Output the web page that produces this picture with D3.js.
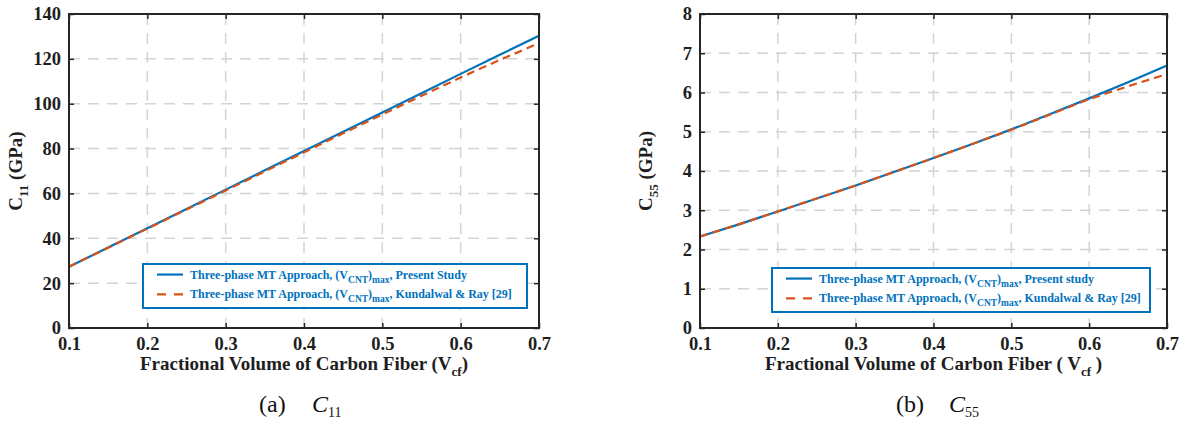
<!DOCTYPE html>
<html><head><meta charset="utf-8">
<script src="https://cdn.jsdelivr.net/npm/d3@7"></script>
<style>
html,body{margin:0;padding:0;background:#fff;}
svg{display:block;}
svg text{font-family:"Liberation Serif","Times New Roman",serif !important;}
</style></head>
<body><svg id="c" width="1186" height="423"></svg>
<script>
// ---- data ----
const vcf = [0.1,0.15,0.2,0.25,0.3,0.35,0.4,0.45,0.5,0.55,0.6,0.65,0.7];
const c11Present = [27.3,35.9,44.5,53.1,61.7,70.3,78.9,87.5,96.1,104.7,113.3,121.8,130.3];
const c11Kundalwal = [27.3,35.8,44.3,52.8,61.3,69.8,78.3,86.8,95.2,103.5,111.7,119.5,127.0];
const c55Present = [2.33,2.64,2.97,3.30,3.63,3.98,4.33,4.69,5.06,5.45,5.85,6.26,6.69];
const c55Kundalwal = [2.33,2.64,2.97,3.30,3.63,3.98,4.33,4.69,5.05,5.44,5.83,6.16,6.47];
const xTicks = [0.1,0.2,0.3,0.4,0.5,0.6,0.7];
const c11Ticks = [0,20,40,60,80,100,120,140];
const c55Ticks = [0,1,2,3,4,5,6,7,8];
const legendA = ["Present Study","Kundalwal & Ray [29]"];
const legendB = ["Present study","Kundalwal & Ray [29]"];

const BLUE = "#0072BD", RED = "#D95319", AX = "#262626", TXT = "#1e1e1e";
const svg = d3.select("#c");

function panel(o){
  const g = svg.append("g");
  const x = d3.scaleLinear().domain([0.1,0.7]).range([o.x0,o.x1]);
  const y = d3.scaleLinear().domain(o.ydom).range([o.y1,o.y0]);
  // grid
  g.selectAll(".gx").data(xTicks.slice(1,-1)).enter().append("line")
    .attr("x1",d=>x(d)).attr("x2",d=>x(d)).attr("y1",o.y0).attr("y2",o.y1)
    .attr("stroke","#d4d4d4").attr("stroke-width",1.5).attr("stroke-dasharray","11,8");
  g.selectAll(".gy").data(o.yticks.slice(1,-1)).enter().append("line")
    .attr("y1",d=>y(d)).attr("y2",d=>y(d)).attr("x1",o.x0).attr("x2",o.x1)
    .attr("stroke","#d4d4d4").attr("stroke-width",1.5).attr("stroke-dasharray","11,8");
  // axes with inward ticks
  const fmtx = d3.format(".1f");
  const ab = g.append("g").attr("transform",`translate(0,${o.y1})`)
    .call(d3.axisBottom(x).tickValues(xTicks).tickFormat(fmtx).tickSizeInner(-5).tickSizeOuter(0).tickPadding(9));
  const at = g.append("g").attr("transform",`translate(0,${o.y0})`)
    .call(d3.axisTop(x).tickValues(xTicks).tickFormat("").tickSizeInner(-5).tickSizeOuter(0));
  const al = g.append("g").attr("transform",`translate(${o.x0},0)`)
    .call(d3.axisLeft(y).tickValues(o.yticks).tickFormat(d3.format("d")).tickSizeInner(-5).tickSizeOuter(0).tickPadding(8));
  const ar = g.append("g").attr("transform",`translate(${o.x1},0)`)
    .call(d3.axisRight(y).tickValues(o.yticks).tickFormat("").tickSizeInner(-5).tickSizeOuter(0));
  [ab,at,al,ar].forEach(a=>{
    a.attr("font-family",null).attr("font-size",null);
    a.select(".domain").remove();
    a.selectAll(".tick line").attr("stroke",AX).attr("stroke-width",1.5);
    a.selectAll("text").attr("fill",TXT).style("font-size","18.5px").style("font-weight","bold");
  });
  // lines
  const line = vals => d3.line().x((d,i)=>x(vcf[i])).y(d=>y(d))(vals);
  g.append("path").attr("d",line(o.s1)).attr("fill","none").attr("stroke",BLUE).attr("stroke-width",2.2);
  g.append("path").attr("d",line(o.s2)).attr("fill","none").attr("stroke",RED).attr("stroke-width",2.2).attr("stroke-dasharray","8,5");
  // frame
  g.append("rect").attr("x",o.x0).attr("y",o.y0).attr("width",o.x1-o.x0).attr("height",o.y1-o.y0)
    .attr("fill","none").attr("stroke",AX).attr("stroke-width",2);
  // legend
  const L = o.leg;
  g.append("rect").attr("x",L.x).attr("y",L.y).attr("width",L.w).attr("height",L.h)
    .attr("fill","#fff").attr("stroke",BLUE).attr("stroke-width",2);
  o.legText.forEach((t,i)=>{
    const ly = L.y + L.h*(i===0?0.24:0.69);
    g.append("line").attr("x1",L.x+14).attr("x2",L.x+40).attr("y1",ly).attr("y2",ly)
      .attr("stroke",i===0?BLUE:RED).attr("stroke-width",2.2).attr("stroke-dasharray",i===0?null:"9,8");
    const tx = g.append("text").attr("x",L.x+47).attr("y",ly+4).attr("fill",BLUE)
      .style("font-size","12px").style("font-weight","bold");
    tx.append("tspan").text("Three-phase MT Approach, (V");
    tx.append("tspan").attr("dy",4).style("font-size","9.5px").text("CNT");
    tx.append("tspan").attr("dy",-4).text(")");
    tx.append("tspan").attr("dy",4).style("font-size","9.5px").text("max");
    tx.append("tspan").attr("dy",-4).text(", " + t);
  });
  // y title
  const yt = g.append("text").attr("transform",`translate(${o.ytx},${(o.y0+o.y1)/2}) rotate(-90)`)
    .attr("text-anchor","middle").attr("fill",TXT).style("font-size","19px").style("font-weight","bold");
  yt.append("tspan").text("C");
  yt.append("tspan").attr("dy",6).style("font-size","13px").text(o.sub);
  yt.append("tspan").attr("dy",-6).text(" (GPa)");
  // x title
  const xt = g.append("text").attr("x",(o.x0+o.x1)/2).attr("y",370).attr("text-anchor","middle")
    .attr("fill",TXT).style("font-size","19px").style("font-weight","bold");
  xt.append("tspan").text(o.xpre);
  xt.append("tspan").attr("dy",6).style("font-size","13px").text("cf");
  xt.append("tspan").attr("dy",-6).text(o.xpost);
  // caption
  const ct = g.append("text").attr("x",o.capx).attr("y",412).attr("fill","#111").style("font-size","24px");
  ct.append("tspan").text(o.cap);
  ct.append("tspan").attr("x",o.capx+53).style("font-style","italic").text("C");
  ct.append("tspan").attr("dy",5).style("font-size","14px").text(o.sub);
}

panel({x0:69,x1:539,y0:14,y1:328,ydom:[0,140],yticks:c11Ticks,s1:c11Present,s2:c11Kundalwal,
  leg:{x:143,y:264,w:384,h:44},legText:legendA,ytx:22,sub:"11",
  xpre:"Fractional Volume of Carbon Fiber (V",xpost:")",capx:259,cap:"(a)"});
panel({x0:700,x1:1167,y0:14,y1:328,ydom:[0,8],yticks:c55Ticks,s1:c55Present,s2:c55Kundalwal,
  leg:{x:772,y:268,w:378,h:44},legText:legendB,ytx:652,sub:"55",
  xpre:"Fractional Volume of Carbon Fiber ( V",xpost:" )",capx:896,cap:"(b)"});
</script></body></html>
